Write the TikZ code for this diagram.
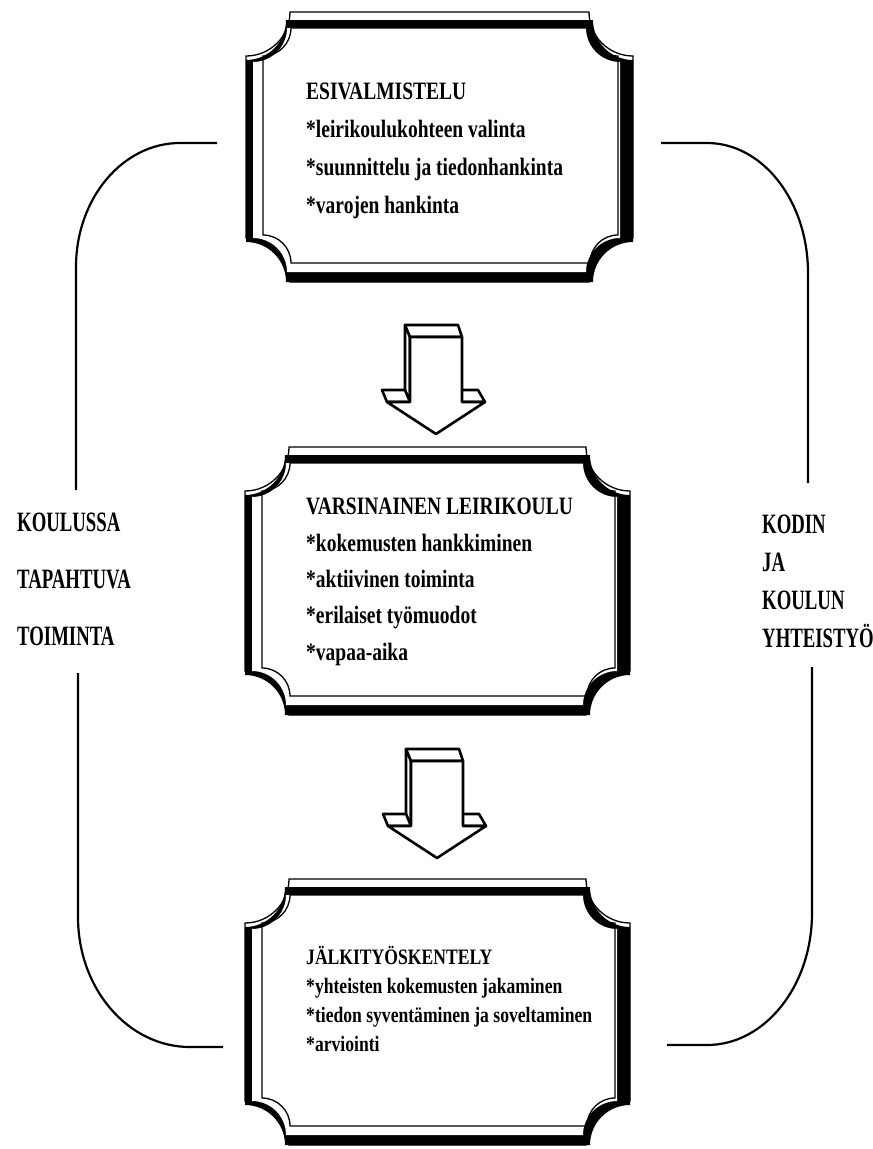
\documentclass[tikz,border=0pt]{standalone}
\usepackage{fontspec}
\setmainfont{Liberation Serif}
\newfontfamily\sidefont{Liberation Serif}[FakeStretch=0.67]
\newfontfamily\boxfont{Liberation Serif}[FakeStretch=0.78]
\newfontfamily\lastfont{Liberation Serif}[FakeStretch=0.8]
\usetikzlibrary{positioning,calc}

% concave-cornered frame path: left, top, right, bottom, corner radius
\newcommand{\cornerpath}[5]{(#1+#5,#2) -- (#3-#5,#2) arc[start angle=180,end angle=90,radius=#5]
  -- (#3,#4-#5) arc[start angle=270,end angle=180,radius=#5]
  -- (#1+#5,#4) arc[start angle=0,end angle=-90,radius=#5]
  -- (#1,#2+#5) arc[start angle=90,end angle=0,radius=#5] -- cycle}

% framed plaque round a box
\newcommand{\plaque}[4]{%
  \draw[thinline,fill=white] \cornerpath{#1}{#2-8}{#3}{#4}{44};
  \fill[black] \cornerpath{#1}{#2}{#3}{#4}{40};
  \fill[white] \cornerpath{#1+7}{#2+8}{#3-13}{#4-10}{34};
  \draw[thinline] \cornerpath{#1+17}{#2+8}{#3-15}{#4-19}{28};
}

\tikzset{blockarrow/.pic={
  \draw[face] (0,0) -- (5,12) -- (5,77) -- (0,65) -- cycle;
  \draw[face] (0,0) -- (53,0) -- (57,12) -- (5,12) -- cycle;
  \draw[face] (-23,65) -- (0,65) -- (5,77) -- (-18,77) -- cycle;
  \draw[face] (53,65) -- (73,65) -- (80,77) -- (57,77) -- cycle;
  \draw[face] (5,12) -- (57,12) -- (57,77) -- (80,77) -- (31,109) -- (-18,77) -- (5,77) -- cycle;
}}

\begin{document}
\begin{tikzpicture}[x=1pt,y=-1pt,
boxtext/.style={anchor=base west,inner sep=0pt,align=left},
sidetext/.style={anchor=base west,inner sep=0pt,align=left},
bracket/.style={line width=2.2pt},
thinline/.style={line width=1.3pt},
face/.style={draw,fill=white,line width=2.6pt,line join=round}]

\useasboundingbox (0,0) rectangle (873,1149);

%frames
\plaque{246}{20}{633}{282}
\plaque{245}{455}{630}{715}
\plaque{245}{887}{630}{1145}

%box texts (anchored at the last baseline)
\node[boxtext,font=\boxfont\bfseries\fontsize{25}{37.7}\selectfont] (esi) at (306,213)
  {ESIVALMISTELU\\*leirikoulukohteen valinta\\*suunnittelu ja tiedonhankinta\\*varojen hankinta};
\node[boxtext,font=\boxfont\bfseries\fontsize{25}{36.3}\selectfont] (leiri) at (306,660)
  {VARSINAINEN LEIRIKOULU\\*kokemusten hankkiminen\\*aktiivinen toiminta\\*erilaiset työmuodot\\*vapaa-aika};
\node[boxtext,font=\lastfont\bfseries\fontsize{22}{29}\selectfont] (jalki) at (306,1051)
  {JÄLKITYÖSKENTELY\\*yhteisten kokemusten jakaminen\\*tiedon syventäminen ja soveltaminen\\*arviointi};

%arrows between boxes
\pic (arr1) at (405,325) {blockarrow};
\pic (arr2) at (406,749) {blockarrow};

%side labels
\node[sidetext,font=\sidefont\bfseries\fontsize{28}{57}\selectfont] (koulu) at (17,645)
  {KOULUSSA\\TAPAHTUVA\\TOIMINTA};
\node[sidetext,font=\sidefont\bfseries\fontsize{28}{38}\selectfont] (koti) at (762,647)
  {KODIN\\JA\\KOULUN\\YHTEISTYÖ};

%brackets
\coordinate (lt) at (217,143);
\coordinate (lb) at (223,1047);
\coordinate (rt) at (661,143);
\coordinate (rb) at (667,1045);

\draw[bracket] (lt) -- (180,143) arc[start angle=270,end angle=180,x radius=104,y radius=124] -- (76,490);
\draw[bracket] (78,673) -- (78,917) arc[start angle=180,end angle=90,x radius=112,y radius=130] -- (lb);
\draw[bracket] (rt) -- (707,143) arc[start angle=270,end angle=360,x radius=101,y radius=130] -- (808,483);
\draw[bracket] (812,667) -- (812,913) arc[start angle=0,end angle=90,x radius=105,y radius=132] -- (rb);

\end{tikzpicture}
\end{document}
